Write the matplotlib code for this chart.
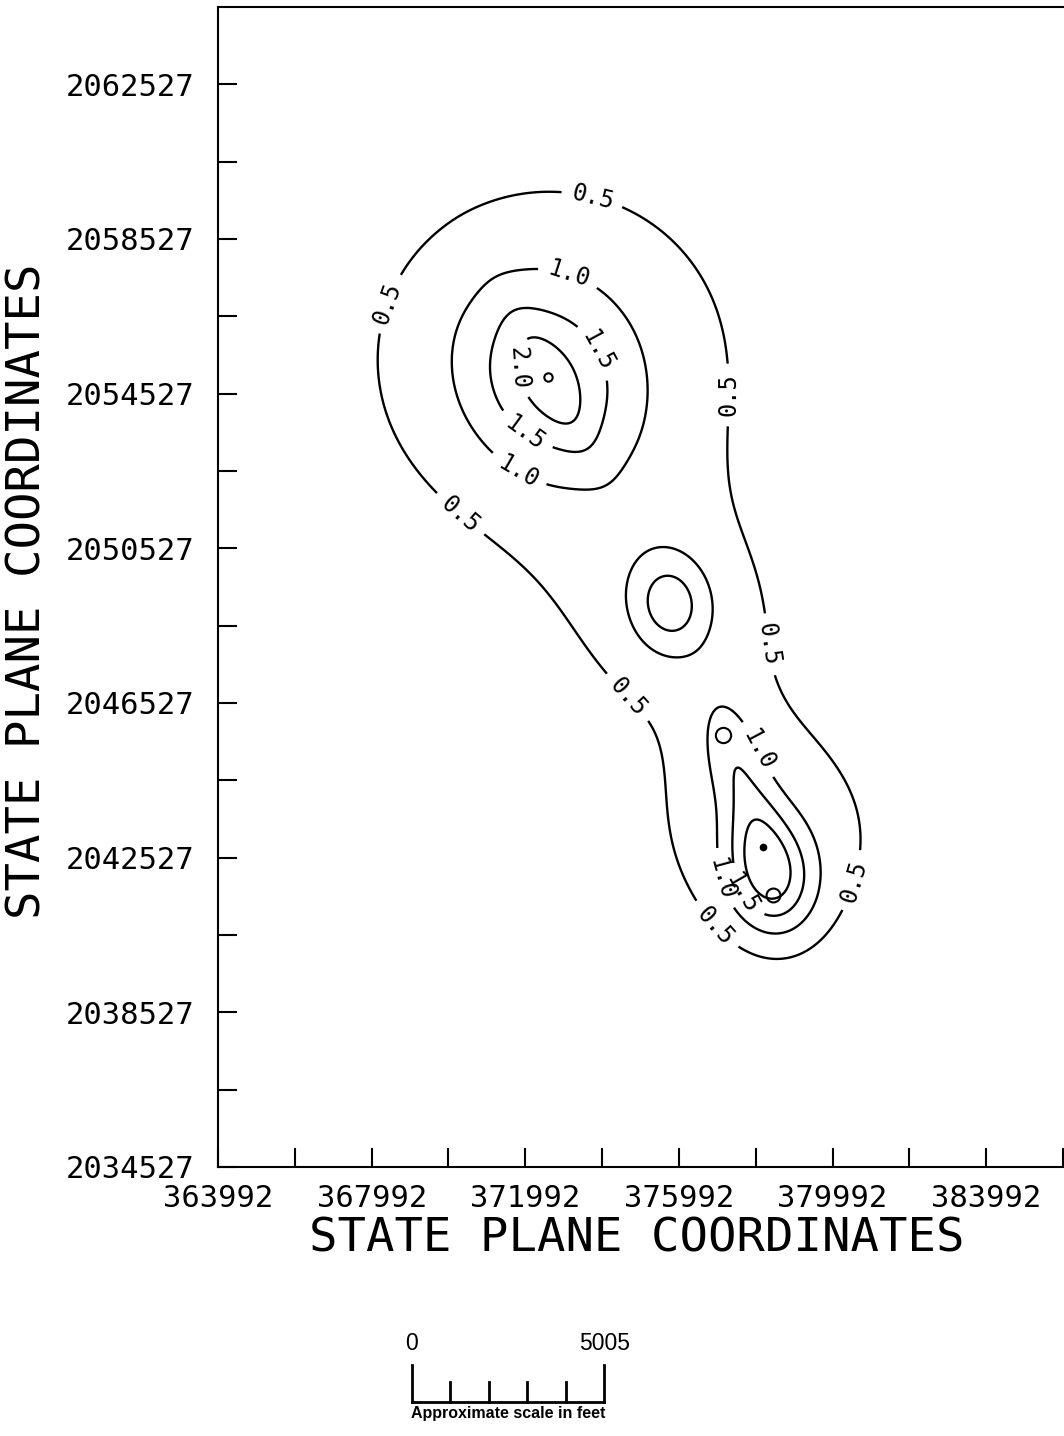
import numpy as np
import matplotlib
matplotlib.use("Agg")
import matplotlib.pyplot as plt
from matplotlib.ticker import FixedLocator

plt.rcParams["font.family"] = "DejaVu Sans Mono"

# ── Axis ranges and ticks (state plane coordinates, feet) ──────────
X_MIN, X_MAX = 363992, 385992
Y_MIN, Y_MAX = 2034527, 2064527
x_major = [363992, 367992, 371992, 375992, 379992, 383992]
x_minor = [365992, 369992, 373992, 377992, 381992, 385992]
y_major = [2034527, 2038527, 2042527, 2046527, 2050527, 2054527, 2058527, 2062527]
y_minor = [2036527, 2040527, 2044527, 2048527, 2052527, 2056527, 2060527]

# ── Plume components (centre, peak, spreads, tilt) ─
comp_x = [372663, 372585, 372689, 376022, 375762, 378366, 378418, 378054, 377377]
comp_y = [2055398, 2054829, 2054752, 2048546, 2049089, 2042986, 2042003, 2043115, 2045184]
comp_amp = [1.07, 1.00, 0.35, 0.55, 1.10, 0.75, 1.40, 0.60, 0.70]
comp_s1 = [3640, 1560, 1430, 2860, 910, 2470, 1040, 1040, 1170]
comp_s2 = [3510, 1248, 416, 2600, 728, 2340, 780, 520, 520]
comp_angle = [0, -62, -62, 0, -80, 0, -80, -80, -76]

levels = [0.5, 1.0, 1.5, 2.0]

# contour label spots
label_x = [373679, 368393, 377246, 370163, 378236, 374720, 376673, 380449,
           373080, 371778, 378184, 377012,
           373679, 372038, 377637,
           371986]
label_y = [2059355, 2056872, 2054493, 2051261, 2048028, 2046735, 2040529, 2041951,
           2057467, 2052476, 2045391, 2041951,
           2055528, 2053588, 2041615,
           2055217]

# small circles / dots marked inside the peaks
mark_x = [372585, 377142, 378444, 378184]
mark_y = [2054959, 2045701, 2041563, 2042805]
mark_size = [6, 11, 10, 4]
mark_filled = [False, False, False, True]

# scale bar (feet)
scale_ticks = [0, 1001, 2002, 3003, 4004, 5005]

# ── Field ──────────────────────────────────────────────────────────
gx = np.linspace(X_MIN, X_MAX, 441)
gy = np.linspace(Y_MIN, Y_MAX, 601)
GX, GY = np.meshgrid(gx, gy)
Z = np.zeros_like(GX)
for cx, cy, a, s1, s2, ang in zip(comp_x, comp_y, comp_amp, comp_s1, comp_s2, comp_angle):
    t = np.deg2rad(ang)
    dx, dy = GX - cx, GY - cy
    u = dx * np.cos(t) + dy * np.sin(t)
    v = -dx * np.sin(t) + dy * np.cos(t)
    Z += a * np.exp(-0.5 * ((u / s1) ** 2 + (v / s2) ** 2))

W, H = 1064, 1436
fig = plt.figure(figsize=(W / 100, H / 100), dpi=100)
ax = fig.add_axes([218 / W, 1 - 1167 / H, 845 / W, 1160 / H])
ax.set_xlim(X_MIN, X_MAX)
ax.set_ylim(Y_MIN, Y_MAX)

cs = ax.contour(GX, GY, Z, levels=levels, colors="black", linewidths=1.7)
ax.clabel(cs, fmt="%.1f", manual=list(zip(label_x, label_y)), inline=True,
          inline_spacing=10, fontsize=17)

for x, y, s, f in zip(mark_x, mark_y, mark_size, mark_filled):
    ax.plot(x, y, "o", ms=s, mfc="black" if f else "none", mec="black", mew=1.5)

ax.xaxis.set_major_locator(FixedLocator(x_major))
ax.xaxis.set_minor_locator(FixedLocator(x_minor))
ax.yaxis.set_major_locator(FixedLocator(y_major))
ax.yaxis.set_minor_locator(FixedLocator(y_minor))
ax.set_xticklabels([str(v) for v in x_major])
ax.set_yticklabels([str(v) for v in y_major])
ax.tick_params(axis="both", which="both", direction="in", length=14, width=1.5,
               labelsize=22, top=False, right=False)
ax.tick_params(axis="y", pad=17)
ax.tick_params(axis="x", pad=12)
for side in ("left", "bottom", "top"):
    ax.spines[side].set_linewidth(1.5)
ax.spines["right"].set_visible(False)

ax.set_xlabel("STATE PLANE COORDINATES", fontsize=34, va="center")
ax.xaxis.set_label_coords(0.496, -0.0625)
ax.set_ylabel("STATE PLANE COORDINATES", fontsize=34, va="center")
ax.yaxis.set_label_coords(-0.225, 0.496)

# ── Scale bar ──────────────────────────────────────────────────────
sax = fig.add_axes([412 / W, 1 - 1402 / H, 5005 * 845 / 22000 / W, 37 / H])
sax.set_xlim(0, 5005)
sax.set_ylim(0, 1)
sax.axis("off")
sax.plot([scale_ticks[0], scale_ticks[-1]], [0, 0], color="black", lw=2, clip_on=False)
for i, t in enumerate(scale_ticks):
    top = 1.0 if i in (0, len(scale_ticks) - 1) else 0.54
    sax.plot([t, t], [0, top], color="black", lw=2, clip_on=False)
for t in (scale_ticks[0], scale_ticks[-1]):
    sax.text(t, 1.57, str(t), ha="center", va="center", fontsize=16.5,
             family="Liberation Sans")
sax.text(scale_ticks[-1] / 2, -0.3, "Approximate scale in feet", ha="center", va="center",
         fontsize=11.5, family="Liberation Sans", fontweight="bold")

fig.savefig("out.png", dpi=100, facecolor="white")
